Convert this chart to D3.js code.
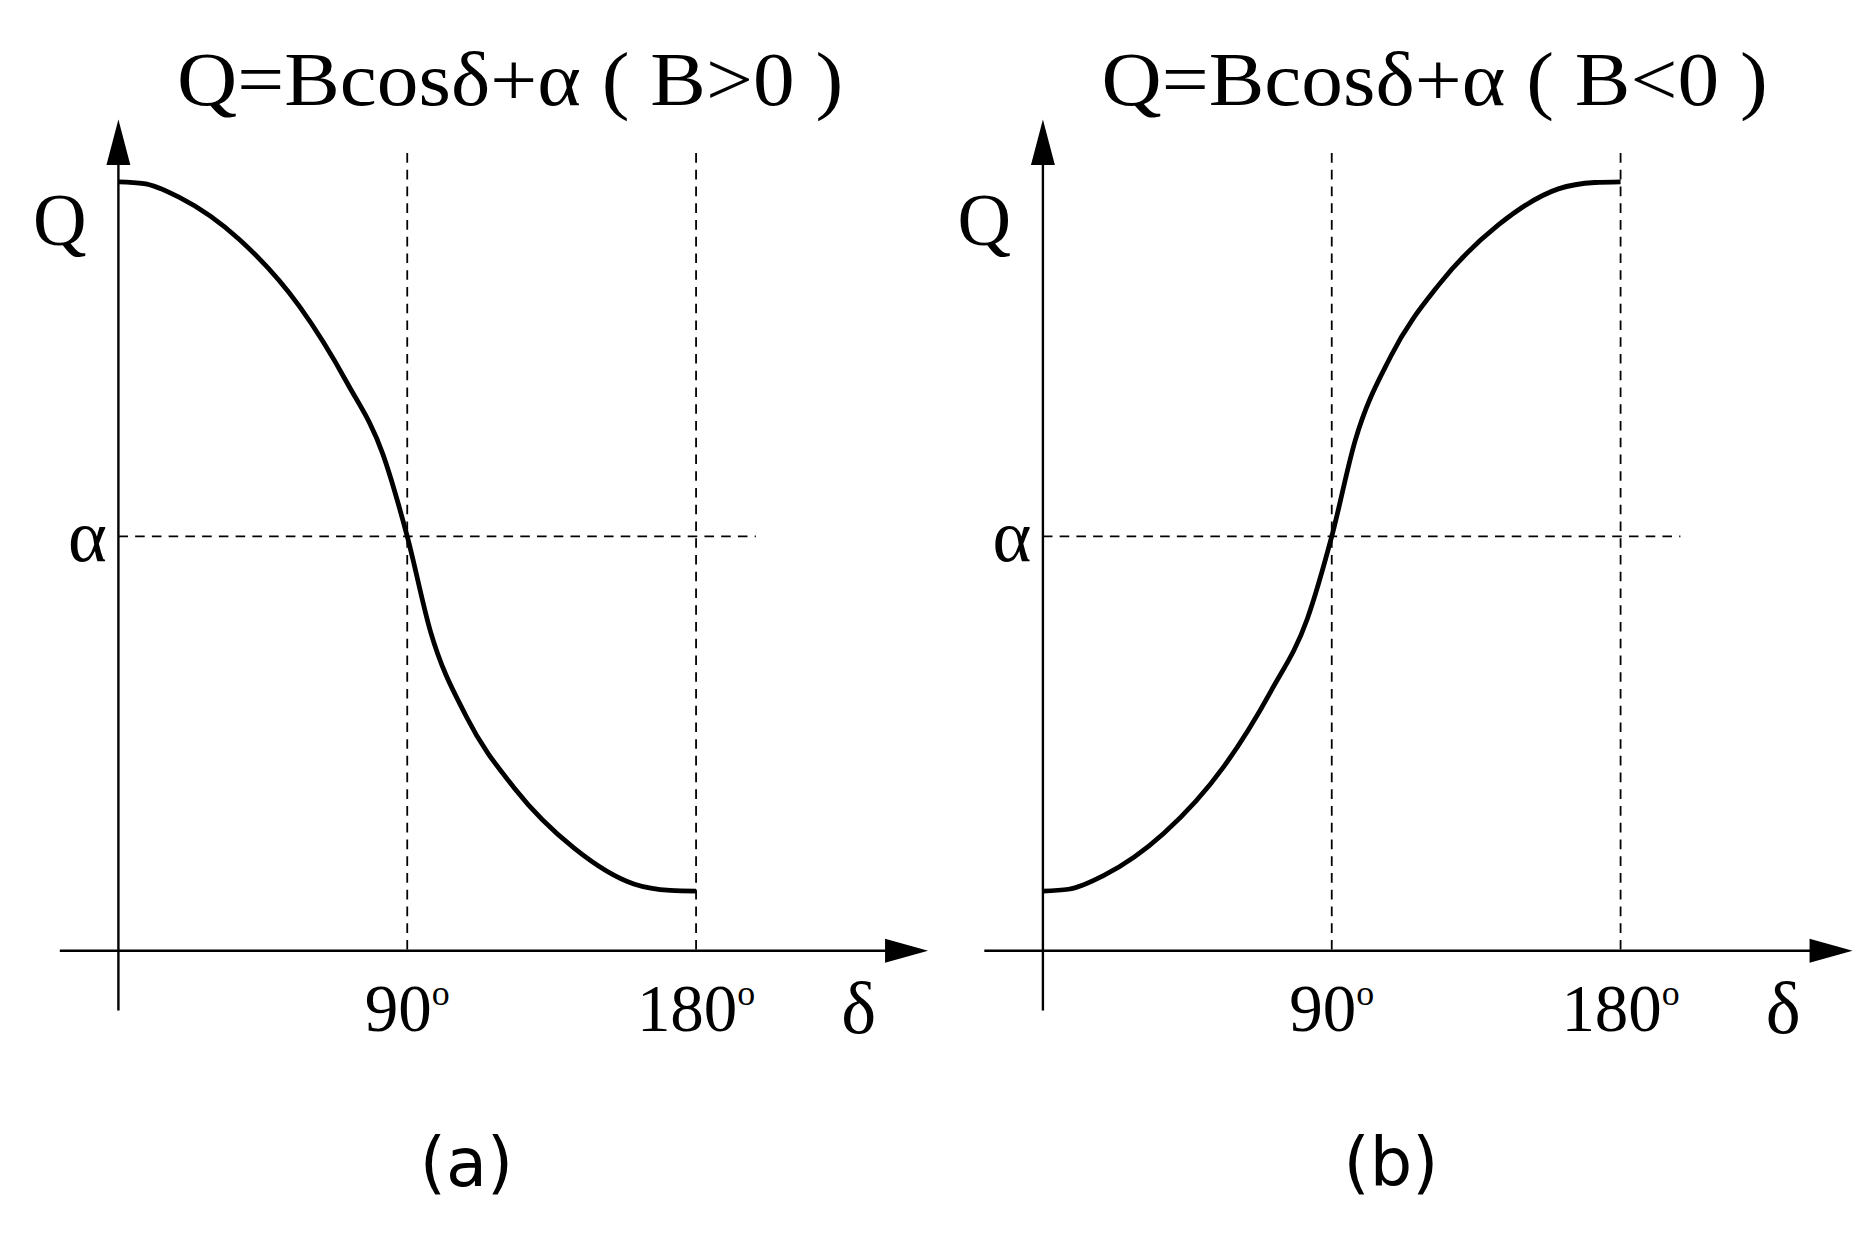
<!DOCTYPE html>
<html><head><meta charset="utf-8">
<script src="https://cdn.jsdelivr.net/npm/d3@7"></script>
<style>body{margin:0;background:#fff}</style></head>
<body><svg id="c" width="1866" height="1233"></svg>
<script>
const deltaDeg = [0,8,19,37.6,56.3,71.2,82.4,90,97.3,108.4,123.4,142,160.6,172,180];
const qVals = [1,0.995,0.956,0.838,0.65,0.434,0.232,0,-0.27,-0.508,-0.71,-0.879,-0.98,-0.998,-1];
const panels = [
  {title:"Q=Bcosδ+α ( B>0 )", sign:1, label:"(a)", dx:0},
  {title:"Q=Bcosδ+α ( B<0 )", sign:-1, label:"(b)", dx:773}
];
const xTicks = [{v:90,t:"90"},{v:180,t:"180"}];

const svg = d3.select("#c");
const root = svg.append("g").attr("transform","scale(1.196)");
const serif = "'Liberation Serif','Times New Roman',serif";
panels.forEach(p=>{
  const g = root.append("g").attr("transform",`translate(${p.dx},0)`);
  const x = d3.scaleLinear().domain([0,180]).range([99,582]);
  const y = d3.scaleLinear().domain([-1,1]).range([745,152]);
  g.append("line").attr("x1",99).attr("x2",99).attr("y1",845).attr("y2",130).attr("stroke","#000").attr("stroke-width",2);
  g.append("path").attr("d","M99,100 L89,138 L109,138 Z").attr("fill","#000");
  g.append("line").attr("x1",50).attr("x2",745).attr("y1",795).attr("y2",795).attr("stroke","#000").attr("stroke-width",2);
  g.append("path").attr("d","M776,795 L740,785 L740,805 Z").attr("fill","#000");
  xTicks.forEach(t=>{
    g.append("line").attr("x1",x(t.v)).attr("x2",x(t.v)).attr("y1",128).attr("y2",795)
      .attr("stroke","#000").attr("stroke-width",1.5).attr("stroke-dasharray","8,6");
    const tx = g.append("text").attr("x",x(t.v)).attr("y",862).attr("text-anchor","middle")
      .attr("font-family",serif).attr("font-size",56);
    tx.append("tspan").text(t.t);
    tx.append("tspan").attr("dy",-22).attr("font-size",30).text("o");
  });
  g.append("line").attr("x1",99).attr("x2",632).attr("y1",y(0)).attr("y2",y(0))
    .attr("stroke","#000").attr("stroke-width",1.5).attr("stroke-dasharray","8,6");
  const line = d3.line().x((d,i)=>x(deltaDeg[i])).y(d=>y(p.sign*d)).curve(d3.curveMonotoneX);
  g.append("path").datum(qVals).attr("d",line).attr("fill","none").attr("stroke","#000").attr("stroke-width",4);
  g.append("text").attr("x",50).attr("y",205).attr("text-anchor","middle").attr("font-family",serif).attr("font-size",62).text("Q");
  g.append("text").attr("x",73).attr("y",469).attr("text-anchor","middle").attr("font-family",serif).attr("font-size",62).text("α");
  g.append("text").attr("x",718).attr("y",864).attr("text-anchor","middle").attr("font-family",serif).attr("font-size",62).text("δ");
  g.append("text").attr("x",148).attr("y",88).attr("font-family",serif).attr("font-size",64)
    .attr("textLength",557).attr("lengthAdjust","spacingAndGlyphs").text(p.title);
  g.append("text").attr("x",390).attr("y",992).attr("text-anchor","middle").attr("font-family","'DejaVu Sans',sans-serif").attr("font-size",56).text(p.label);
});
</script></body></html>
